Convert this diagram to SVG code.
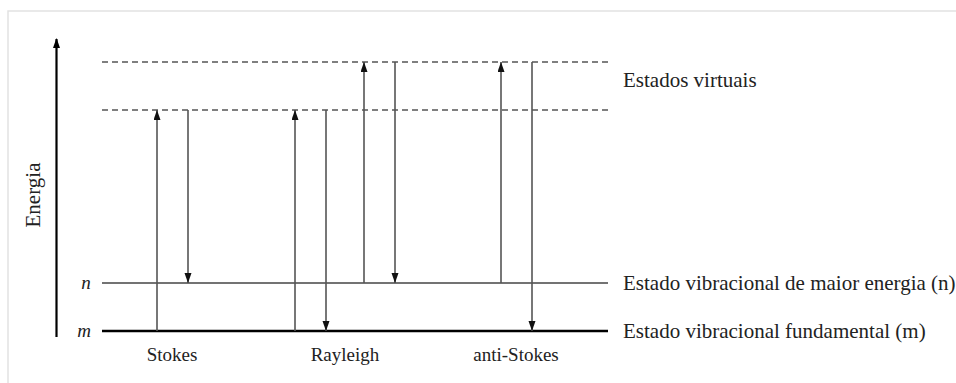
<svg xmlns="http://www.w3.org/2000/svg" width="956" height="383" viewBox="0 0 956 383">
  <style>
    .lbl { font-family: "Liberation Serif", "Times New Roman", serif; fill: #222; }
    .big { font-size: 21px; }
    .small { font-size: 19px; }
    .it { font-style: italic; font-size: 19px; }
    .trans { stroke: #555; stroke-width: 1.6; fill: none; marker-end: url(#tip); }
    .virtual { stroke: #555; stroke-width: 1.4; stroke-dasharray: 6 4; fill: none; }
  </style>
  <defs>
    <marker id="tip" markerUnits="userSpaceOnUse" markerWidth="10" markerHeight="8" refX="10" refY="3.5" orient="auto">
      <path d="M0,0 L10,3.5 L0,7 z" fill="#111"/>
    </marker>
    <marker id="axisTip" markerUnits="userSpaceOnUse" markerWidth="10" markerHeight="8" refX="9" refY="3.5" orient="auto">
      <path d="M0,0 L10,3.5 L0,7 z" fill="#000"/>
    </marker>
  </defs>

  <rect width="956" height="383" fill="#fff"/>
  <!-- page frame -->
  <path d="M8,383 V11 H956" fill="none" stroke="#e2e2e2" stroke-width="1.5"/>

  <!-- energy axis -->
  <g id="axis">
    <line x1="56.5" y1="337" x2="56.5" y2="39" stroke="#000" stroke-width="2.2" marker-end="url(#axisTip)"/>
    <text class="lbl big" transform="translate(40,195) rotate(-90)" text-anchor="middle">Energia</text>
  </g>

  <!-- energy levels -->
  <g id="virtual-upper">
    <line class="virtual" x1="102" y1="62" x2="608" y2="62"/>
  </g>
  <g id="virtual-lower">
    <line class="virtual" x1="102" y1="110" x2="608" y2="110"/>
    <text class="lbl big" x="623" y="87">Estados virtuais</text>
  </g>
  <g id="level-n">
    <line x1="102" y1="283" x2="608" y2="283" stroke="#444" stroke-width="1.5"/>
    <text class="lbl it" x="86" y="289" text-anchor="middle">n</text>
    <text class="lbl big" x="623" y="290">Estado vibracional de maior energia (n)</text>
  </g>
  <g id="level-m">
    <line x1="102" y1="331" x2="608" y2="331" stroke="#000" stroke-width="2.6"/>
    <text class="lbl it" x="84" y="337" text-anchor="middle">m</text>
    <text class="lbl big" x="623" y="338">Estado vibracional fundamental (m)</text>
  </g>

  <!-- transitions -->
  <g id="connectors">
    <!-- Stokes -->
    <line class="trans" x1="157" y1="331" x2="157" y2="110"/>
    <line class="trans" x1="188" y1="110" x2="188" y2="283"/>
    <!-- Rayleigh -->
    <line class="trans" x1="295" y1="331" x2="295" y2="110"/>
    <line class="trans" x1="326" y1="110" x2="326" y2="331"/>
    <line class="trans" x1="364" y1="283" x2="364" y2="62"/>
    <line class="trans" x1="395" y1="62" x2="395" y2="283"/>
    <!-- anti-Stokes -->
    <line class="trans" x1="501" y1="283" x2="501" y2="62"/>
    <line class="trans" x1="532" y1="62" x2="532" y2="331"/>
  </g>

  <g id="captions">
    <text class="lbl small" x="172" y="361" text-anchor="middle">Stokes</text>
    <text class="lbl small" x="345" y="361" text-anchor="middle">Rayleigh</text>
    <text class="lbl small" x="516" y="361" text-anchor="middle">anti-Stokes</text>
  </g>
</svg>
